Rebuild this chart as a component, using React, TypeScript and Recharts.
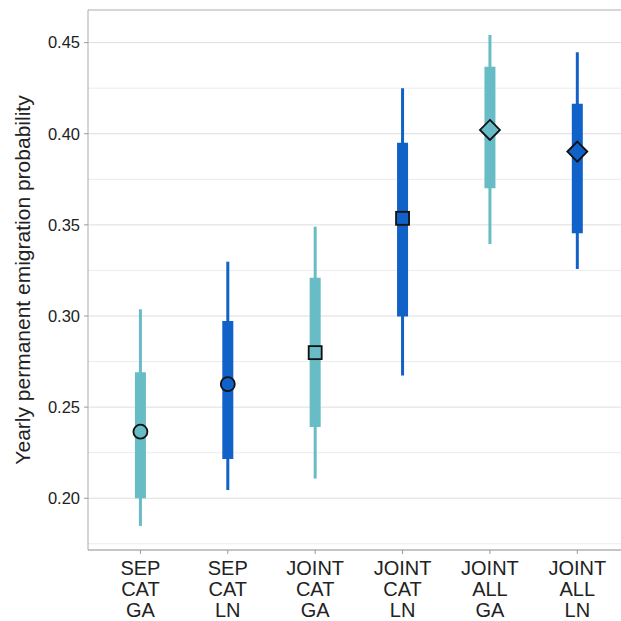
import {
  CartesianGrid,
  ComposedChart,
  ErrorBar,
  ReferenceLine,
  Scatter,
  XAxis,
  YAxis,
} from 'recharts'

// model labels, one per column (lines split on spaces)
const categories = ['SEP CAT GA', 'SEP CAT LN', 'JOINT CAT GA', 'JOINT CAT LN', 'JOINT ALL GA', 'JOINT ALL LN']
const groups = ['GA', 'LN', 'GA', 'LN', 'GA', 'LN']
const shapes = ['circle', 'circle', 'square', 'square', 'diamond', 'diamond']

const estimate = [0.2365, 0.2626, 0.2799, 0.3536, 0.4021, 0.3902]
const lower95 = [0.1848, 0.2045, 0.2108, 0.2673, 0.3395, 0.3258]
const upper95 = [0.3037, 0.3298, 0.349, 0.425, 0.4542, 0.4447]
const lower50 = [0.2, 0.2216, 0.2391, 0.2997, 0.3701, 0.3454]
const upper50 = [0.2691, 0.2973, 0.321, 0.3951, 0.4368, 0.4164]

const yTicks = [0.2, 0.25, 0.3, 0.35, 0.4, 0.45]
const yMinor = [0.175, 0.225, 0.275, 0.325, 0.375, 0.425]
const yDomain: [number, number] = [0.1716, 0.4679]

const TEAL = '#67bcc5'
const BLUE = '#1061c8'
const FONT = '"Liberation Sans", Arial, sans-serif'

const rows = categories.map((label, i) => ({
  x: i + 1,
  label,
  group: groups[i],
  shape: shapes[i],
  est: estimate[i],
  err95: [estimate[i] - lower95[i], upper95[i] - estimate[i]],
  err50: [estimate[i] - lower50[i], upper50[i] - estimate[i]],
}))

const gaRows = rows.filter((r) => r.group === 'GA')
const lnRows = rows.filter((r) => r.group === 'LN')

function Marker(props: any) {
  const { cx, cy, payload, fill } = props
  if (cx == null || cy == null) return null
  const common = { fill, stroke: '#111', strokeWidth: 1.8 }
  if (payload.shape === 'circle') {
    return <circle cx={cx} cy={cy} r={7} {...common} />
  }
  if (payload.shape === 'square') {
    return <rect x={cx - 6.5} y={cy - 6.5} width={13} height={13} {...common} />
  }
  const d = 10
  return (
    <polygon
      points={`${cx},${cy - d} ${cx + d},${cy} ${cx},${cy + d} ${cx - d},${cy}`}
      {...common}
    />
  )
}

function XTick(props: any) {
  const { x, y, payload } = props
  const row = rows.find((r) => r.x === payload.value)
  if (!row) return null
  return (
    <text x={x} y={y} textAnchor="middle" fill="#222" fontSize={20} fontFamily={FONT}>
      {row.label.split(' ').map((line, i) => (
        <tspan key={line + i} x={x} dy={i === 0 ? 19 : 21}>
          {line}
        </tspan>
      ))}
    </text>
  )
}

function YTitle(props: any) {
  const { viewBox } = props
  const cx = viewBox.x + 22
  const cy = viewBox.y + viewBox.height / 2
  return (
    <text
      x={cx}
      y={cy}
      transform={`rotate(-90, ${cx}, ${cy})`}
      textAnchor="middle"
      dominantBaseline="central"
      fill="#222"
      fontSize={21}
      fontFamily={FONT}
    >
      Yearly permanent emigration probability
    </text>
  )
}

export default function App() {
  return (
    <div style={{ position: 'fixed', top: 0, left: 0, width: 621, height: 621, overflow: 'hidden', background: '#fff' }}>
      <ComposedChart width={621} height={621} margin={{ top: 10, right: 0, bottom: 0, left: 0 }}>
        <CartesianGrid vertical={false} stroke="#dedede" strokeWidth={1} />
        {yMinor.map((v) => (
          <ReferenceLine key={v} y={v} stroke="#ececec" strokeWidth={1} ifOverflow="hidden" />
        ))}
        <ReferenceLine y={yDomain[1]} stroke="#bdbdbd" strokeWidth={1} />
        <XAxis
          type="number"
          dataKey="x"
          domain={[0.4, 6.5]}
          ticks={[1, 2, 3, 4, 5, 6]}
          allowDataOverflow
          height={71}
          tick={<XTick />}
          tickSize={4}
          tickLine={{ stroke: '#9a9a9a' }}
          axisLine={{ stroke: '#9a9a9a' }}
        />
        <YAxis
          type="number"
          dataKey="est"
          domain={yDomain}
          ticks={yTicks}
          allowDataOverflow
          width={88}
          tickSize={4}
          tickMargin={4}
          tickFormatter={(v: number) => v.toFixed(2)}
          tick={{ fill: '#222', fontSize: 16.5, fontFamily: FONT }}
          tickLine={{ stroke: '#9a9a9a' }}
          axisLine={{ stroke: '#aaaaaa' }}
          label={<YTitle />}
        />
        <Scatter
          data={gaRows}
          isAnimationActive={false}
          shape={(p: any) => <Marker {...p} fill={TEAL} />}
        >
          <ErrorBar dataKey="err95" direction="y" width={0} strokeWidth={3} stroke={TEAL} isAnimationActive={false} />
          <ErrorBar dataKey="err50" direction="y" width={0} strokeWidth={11} stroke={TEAL} isAnimationActive={false} />
        </Scatter>
        <Scatter
          data={lnRows}
          isAnimationActive={false}
          shape={(p: any) => <Marker {...p} fill={BLUE} />}
        >
          <ErrorBar dataKey="err95" direction="y" width={0} strokeWidth={3} stroke={BLUE} isAnimationActive={false} />
          <ErrorBar dataKey="err50" direction="y" width={0} strokeWidth={11} stroke={BLUE} isAnimationActive={false} />
        </Scatter>
      </ComposedChart>
    </div>
  )
}
